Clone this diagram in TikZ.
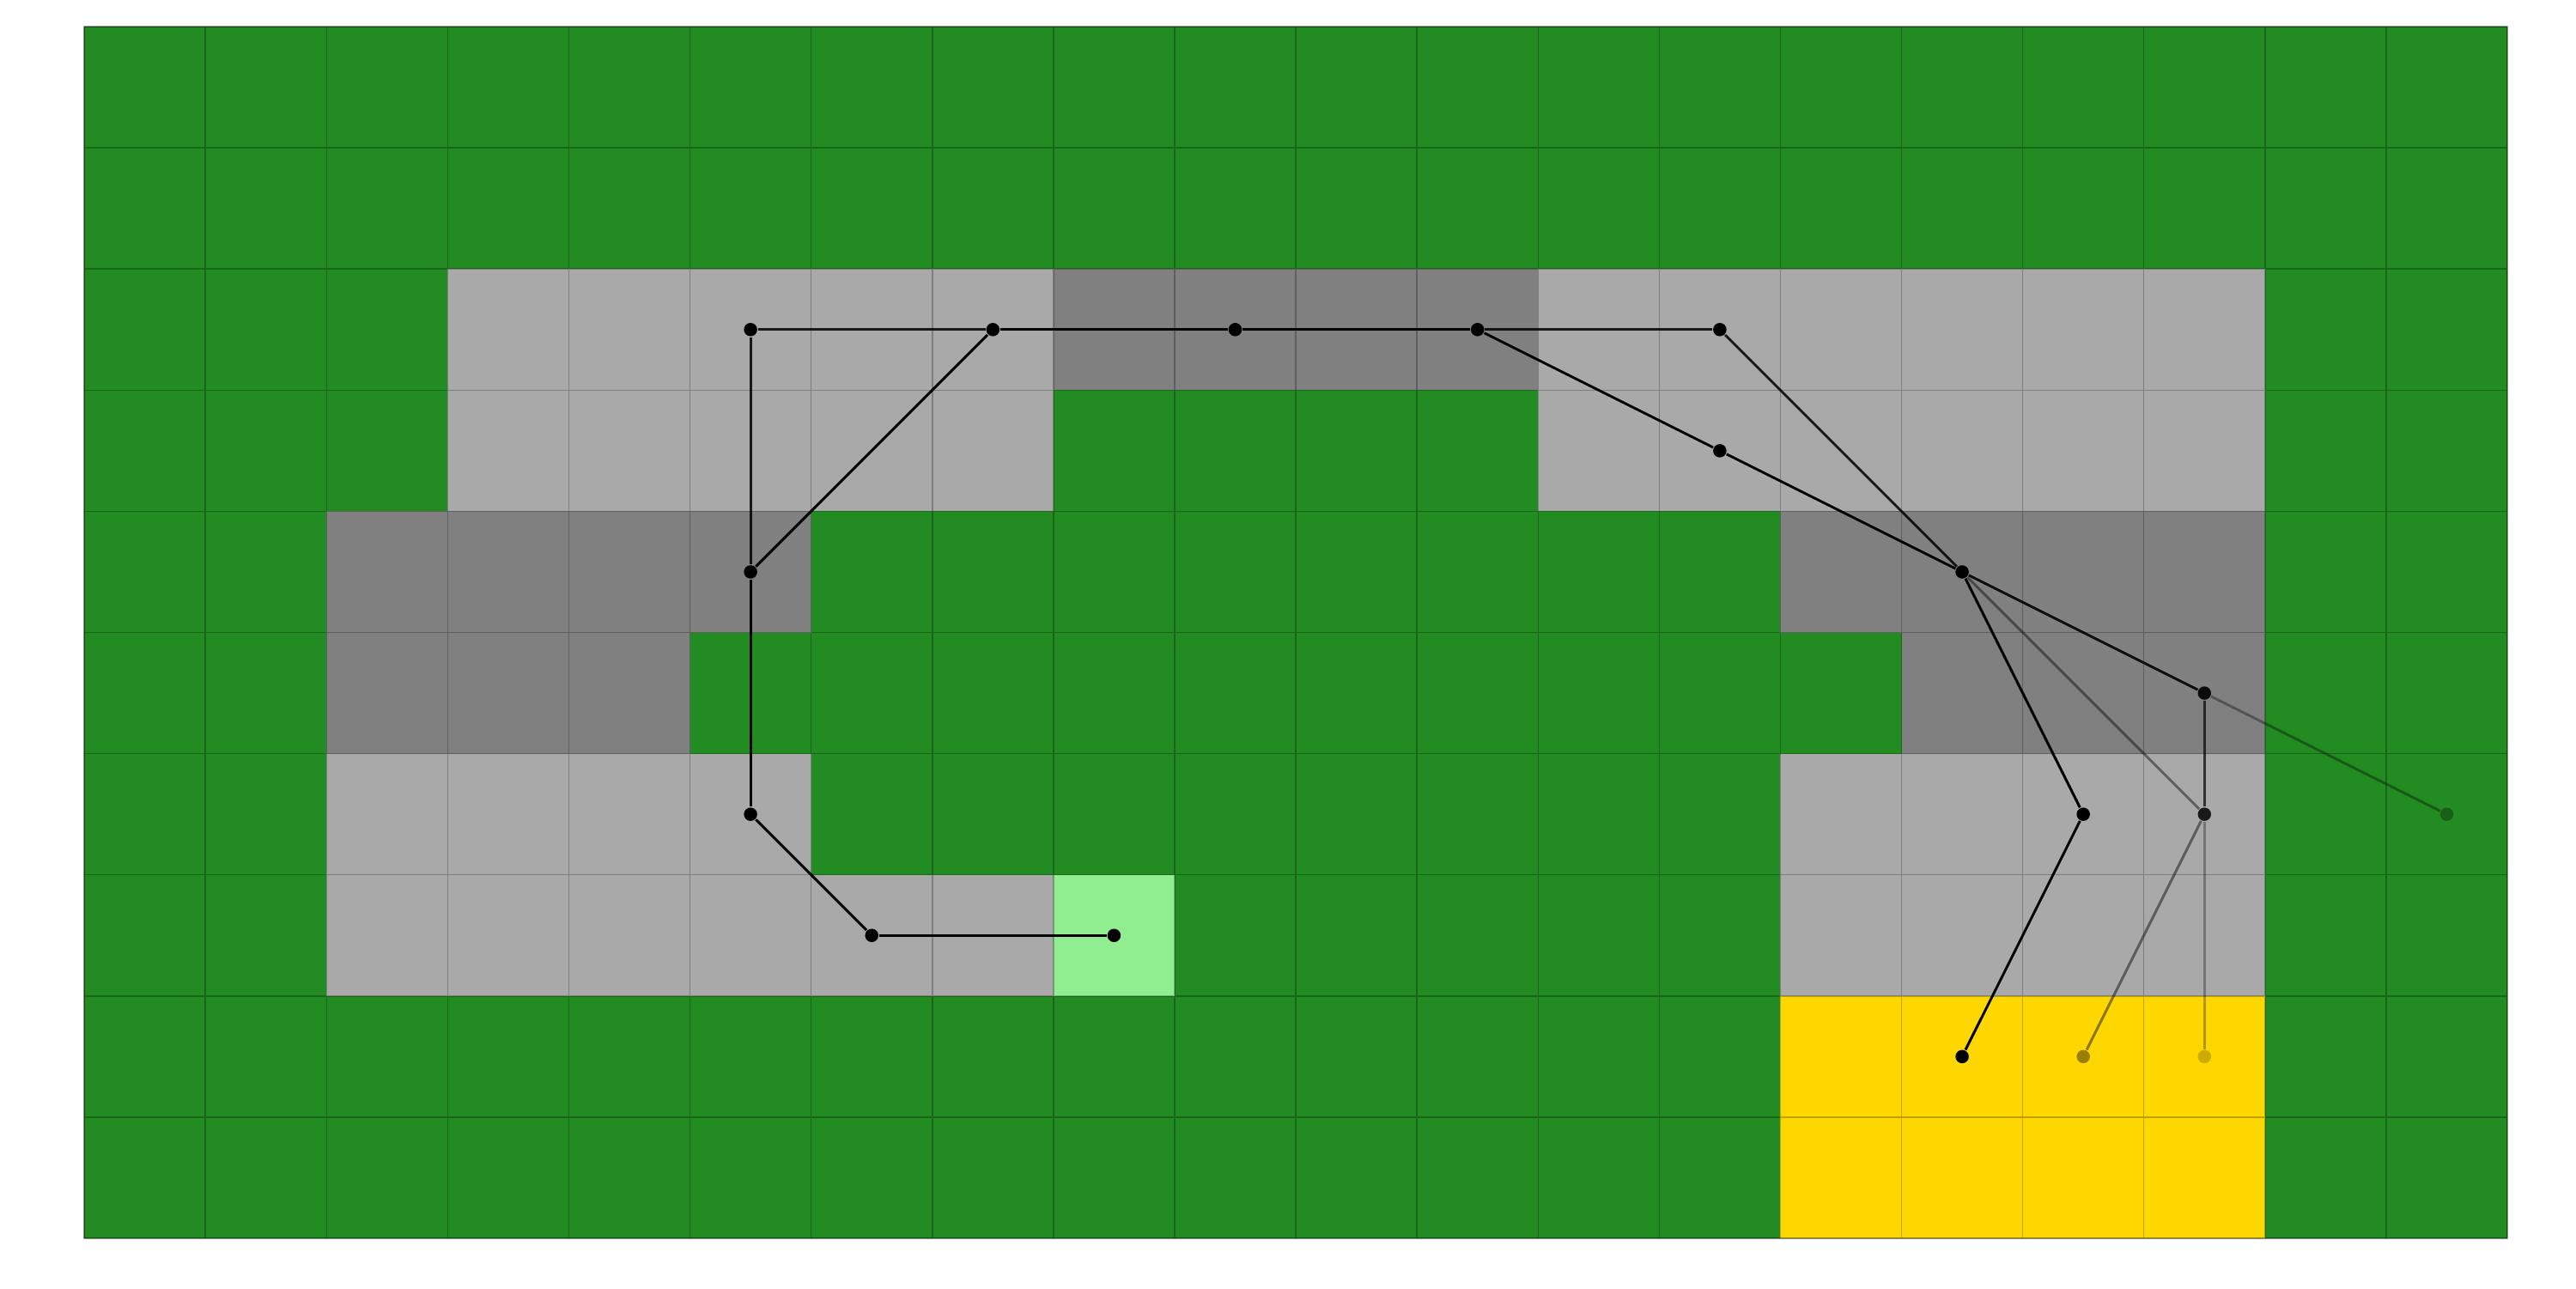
\documentclass[tikz,border=0pt]{standalone}
\usepackage{tikz}
\usetikzlibrary{%
  arrows,
  calc
}
\tikzset{>=latex}
\definecolor{field}{RGB}{34,139,34}
\definecolor{lightfloor}{RGB}{169,169,169}
\definecolor{darkfloor}{RGB}{128,128,128}
\definecolor{startcell}{RGB}{144,238,144}
\definecolor{goalcell}{RGB}{255,215,0}
\tikzset{
  pt/.style={circle,fill=black,inner sep=0pt,minimum size=0.11cm},
  edge/.style={line width=0.6pt,black},
  gridline/.style={line width=0.3pt,black,opacity=0.25}
}

\begin{document}
\begin{tikzpicture}

  \fill[white] (-0.695,-0.413) rectangle (20.567,10.22);
  \useasboundingbox (-0.695,-0.413) rectangle (20.567,10.22);

  % cells
  \fill[field] (0,0) rectangle (20,10);
  \fill[lightfloor] (3,6) rectangle (8,8);
  \fill[lightfloor] (12,6) rectangle (18,8);
  \fill[lightfloor] (2,3) rectangle (6,4);
  \fill[lightfloor] (2,2) rectangle (8,3);
  \fill[lightfloor] (14,2) rectangle (18,4);
  \fill[darkfloor] (8,7) rectangle (12,8);
  \fill[darkfloor] (2,5) rectangle (6,6);
  \fill[darkfloor] (2,4) rectangle (5,5);
  \fill[darkfloor] (14,5) rectangle (18,6);
  \fill[darkfloor] (15,4) rectangle (18,5);
  \fill[startcell] (8,2) rectangle (9,3);
  \fill[goalcell] (14,0) rectangle (18,2);
  \draw[gridline] (0,0) grid (20,10);
  \draw[gridline] (0,0) rectangle (20,10);

  % tree
  \node[pt] (s) at (8.5,2.5) {};
  \node[pt] (a) at (6.5,2.5) {};
  \node[pt] (b) at (5.5,3.5) {};
  \node[pt] (c) at (5.5,5.5) {};
  \node[pt] (d) at (5.5,7.5) {};
  \node[pt] (e) at (7.5,7.5) {};
  \node[pt] (f) at (9.5,7.5) {};
  \node[pt] (g) at (11.5,7.5) {};
  \node[pt] (h) at (13.5,7.5) {};
  \node[pt] (i) at (13.5,6.5) {};
  \node[pt] (j) at (15.5,5.5) {};
  \node[pt,opacity=0.9] (k) at (17.5,4.5) {};
  \node[pt] (l) at (16.5,3.5) {};
  \node[pt,opacity=0.85] (m) at (17.5,3.5) {};
  \node[pt,opacity=0.3] (n) at (19.5,3.5) {};
  \node[pt] (g1) at (15.5,1.5) {};
  \node[pt,opacity=0.4] (g2) at (16.5,1.5) {};
  \node[pt,opacity=0.2] (g3) at (17.5,1.5) {};

  \draw[edge] (s) -- (a);
  \draw[edge] (a) -- (b);
  \draw[edge] (b) -- (c);
  \draw[edge,opacity=0.85] (c) -- (d);
  \draw[edge] (c) -- (e);
  \draw[edge,opacity=0.85] (d) -- (e);
  \draw[edge] (e) -- (f);
  \draw[edge] (f) -- (g);
  \draw[edge,opacity=0.85] (g) -- (h);
  \draw[edge] (g) -- (i);
  \draw[edge] (i) -- (j);
  \draw[edge,opacity=0.85] (h) -- (j);
  \draw[edge,opacity=0.9] (j) -- (k);
  \draw[edge] (j) -- (l);
  \draw[edge] (l) -- (g1);
  \draw[edge,opacity=0.45] (j) -- (m);
  \draw[edge,opacity=0.7] (k) -- (m);
  \draw[edge,opacity=0.35] (k) -- (n);
  \draw[edge,opacity=0.45] (m) -- (g2);
  \draw[edge,opacity=0.3] (m) -- (g3);

\end{tikzpicture}
\end{document}
